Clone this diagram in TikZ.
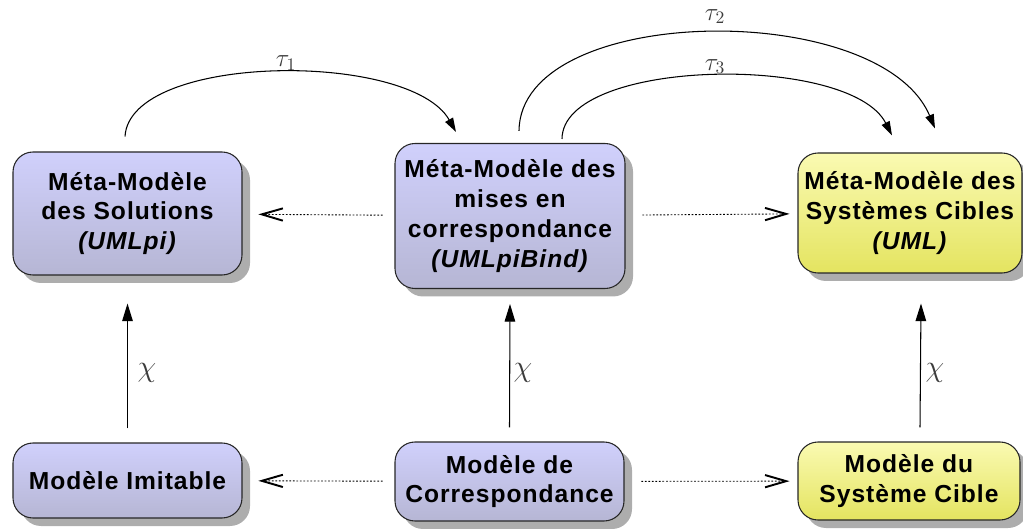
\documentclass[tikz,border=0pt]{standalone}
\usepackage{fontspec}
\setmainfont{Liberation Sans}[LetterSpace=4]
\usetikzlibrary{arrows.meta,shadows}
\definecolor{lavtop}{RGB}{208,208,252}
\definecolor{lavbot}{RGB}{182,182,212}
\definecolor{yeltop}{RGB}{250,250,178}
\definecolor{yelbot}{RGB}{228,228,96}
\definecolor{lblgray}{RGB}{60,60,60}

\begin{document}
\begin{tikzpicture}[>=Triangle,
  box/.style={draw=black!85, line width=0.6pt, rounded corners=0.4cm, align=center,
    inner sep=0pt, font=\fontsize{14}{17}\selectfont\bfseries,
    drop shadow={shadow xshift=0.16cm, shadow yshift=-0.16cm, fill=black!32, opacity=1}},
  bluebox/.style={box, top color=lavtop, bottom color=lavbot},
  yelbox/.style={box, top color=yeltop, bottom color=yelbot},
  trans/.style={line width=0.6pt, -{Triangle[length=8pt,width=5pt]}},
  chiarr/.style={line width=0.6pt, -{Triangle[length=10pt,width=6pt]}},
  maparr/.style={line width=0.5pt, dash pattern=on 1pt off 1pt,
    -{Straight Barb[length=12pt,width=7pt,line width=1.1pt]}},
  lbl/.style={text=lblgray, font=\fontsize{17}{17}\selectfont},
  taulbl/.style={text=lblgray, font=\fontsize{14}{14}\selectfont}]
  \useasboundingbox (0,0) rectangle (20.46,10.56);

  % meta-models
  \node[bluebox, minimum width=4.58cm, minimum height=2.46cm] (msol) at (2.55,6.29)
    {Méta-Modèle\\des Solutions\\\textit{(UMLpi)}};
  \node[bluebox, minimum width=4.6cm, minimum height=2.9cm] (mmap) at (10.2,6.24)
    {Méta-Modèle des\\mises en\\correspondance\\\textit{(UMLpiBind)}};
  \node[yelbox, minimum width=4.48cm, minimum height=2.4cm] (mtgt) at (18.2,6.3)
    {Méta-Modèle des\\Systèmes Cibles\\\textit{(UML)}};

  % models
  \node[bluebox, minimum width=4.58cm, minimum height=1.5cm] (imit) at (2.55,0.95)
    {Modèle Imitable};
  \node[bluebox, minimum width=4.58cm, minimum height=1.58cm] (corr) at (10.19,0.93)
    {Modèle de\\Correspondance};
  \node[yelbox, minimum width=4.44cm, minimum height=1.56cm] (sys) at (18.18,0.94)
    {Modèle du\\Système Cible};

  % mappings
  \draw[maparr, shorten <=6.8pt, shorten >=9pt] (mmap) -- (msol);
  \draw[maparr, shorten <=9.6pt, shorten >=4.5pt] (mmap) -- (mtgt);
  \draw[maparr, shorten <=6.8pt, shorten >=9pt] (corr) -- (imit);
  \draw[maparr, shorten <=9.6pt, shorten >=4.5pt] (corr) -- (sys);

  % conformance
  \draw[chiarr] ([yshift=0.28cm]imit.north) -- ([yshift=-0.56cm]msol.south);
  \draw[chiarr] ([yshift=0.28cm]corr.north) -- ([yshift=-0.3cm]mmap.south);
  \draw[chiarr] ([xshift=0.22cm,yshift=0.28cm]sys.north) -- ([xshift=0.22cm,yshift=-0.6cm]mtgt.south);
  \node[lbl] (chi1) at (2.94,3.1) {$\chi$};
  \node[lbl] (chi2) at (10.46,3.1) {$\chi$};
  \node[lbl] (chi3) at (18.7,3.1) {$\chi$};

  % transformations
  \draw[trans] ([xshift=-0.05cm,yshift=0.3cm]msol.north)
    .. controls (2.6,9.5) and (8.2,9.55) .. ([xshift=-1.08cm,yshift=0.22cm]mmap.north);
  \draw[trans] ([xshift=0.18cm,yshift=0.24cm]mmap.north)
    .. controls (10.4,10.5) and (17.6,10.6) .. ([xshift=0.5cm,yshift=0.48cm]mtgt.north);
  \draw[trans] ([xshift=1.04cm,yshift=0.08cm]mmap.north)
    .. controls (11.25,9.4) and (17.0,9.5) .. ([xshift=-0.36cm,yshift=0.34cm]mtgt.north);
  \node[taulbl] (tau1) at (5.72,9.3) {$\tau_1$};
  \node[taulbl] (tau2) at (14.3,10.23) {$\tau_2$};
  \node[taulbl] (tau3) at (14.3,9.23) {$\tau_3$};
\end{tikzpicture}
\end{document}
